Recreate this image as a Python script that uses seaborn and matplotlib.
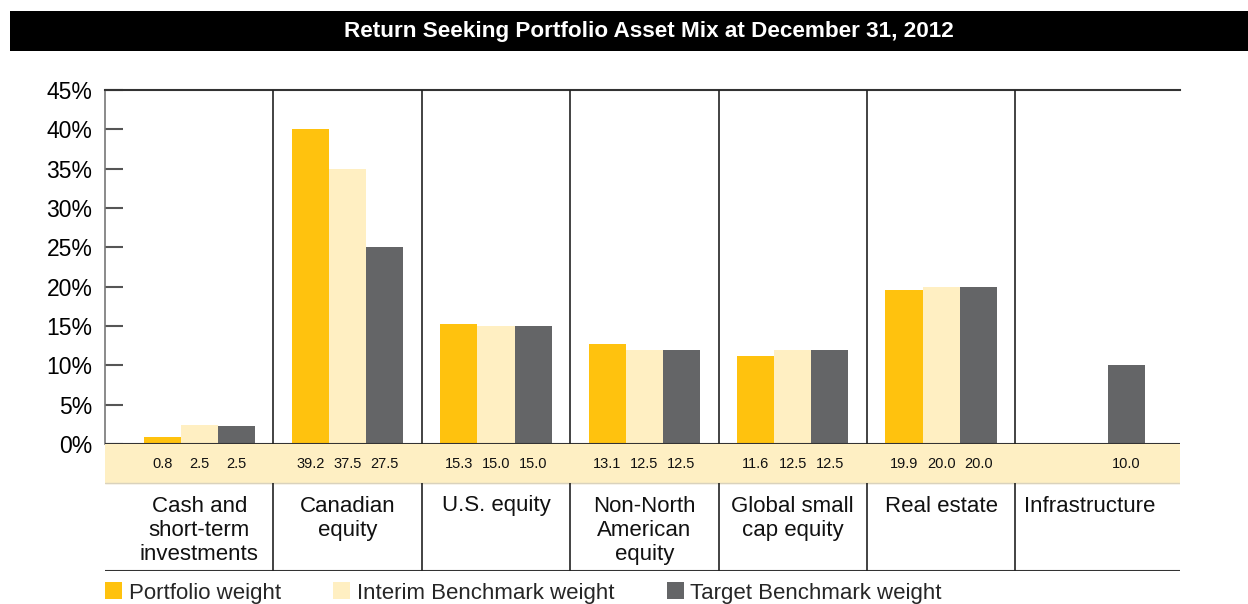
import numpy as np
import pandas as pd
import matplotlib
matplotlib.use('Agg')
import matplotlib.pyplot as plt
import seaborn as sns

# Chart data
categories = ['Cash and\nshort-term\ninvestments', 'Canadian\nequity', 'U.S. equity',
              'Non-North\nAmerican\nequity', 'Global small\ncap equity', 'Real estate',
              'Infrastructure']
series = ['Portfolio weight', 'Interim Benchmark weight', 'Target Benchmark weight']

# bar heights as drawn in the chart (%)
portfolio_bar = [0.9, 40.0, 15.2, 12.7, 11.2, 19.6, 0.0]
interim_bar = [2.4, 35.0, 15.0, 12.0, 12.0, 20.0, 0.0]
target_bar = [2.3, 25.0, 15.0, 12.0, 12.0, 20.0, 10.0]

# values printed in the band under the bars
portfolio_lbl = ['0.8', '39.2', '15.3', '13.1', '11.6', '19.9', '']
interim_lbl = ['2.5', '37.5', '15.0', '12.5', '12.5', '20.0', '']
target_lbl = ['2.5', '27.5', '15.0', '12.5', '12.5', '20.0', '10.0']

y_ticks = [0, 5, 10, 15, 20, 25, 30, 35, 40, 45]

colors = ['#FFC20E', '#FFEFC2', '#646567']
band_color = '#FEEFC3'

sns.set_theme(style='white')
plt.rcParams['font.family'] = ['Liberation Sans', 'DejaVu Sans']

df = pd.DataFrame({
    'category': categories * 3,
    'series': np.repeat(series, len(categories)),
    'value': portfolio_bar + interim_bar + target_bar,
})

W, H = 1248, 604
fig = plt.figure(figsize=(W / 100, H / 100), dpi=100)

# title bar
fig.patches.append(plt.Rectangle((10 / W, 1 - 51 / H), 1, 40 / H, transform=fig.transFigure,
                                 facecolor='black', edgecolor='none'))
fig.text(649 / W, 1 - 31 / H, 'Return Seeking Portfolio Asset Mix at December 31, 2012',
         color='white', fontsize=16.2, fontweight='bold', ha='center', va='center')

left, right = 105 / W, 1180 / W
ax = fig.add_axes([left, 1 - 444 / H, right - left, (444 - 90) / H])
sns.barplot(data=df, x='category', y='value', hue='series', order=categories,
            hue_order=series, palette=colors, saturation=1, width=0.75,
            linewidth=0, ax=ax)
xlim = (-0.635, 6.61)
ax.set_xlim(*xlim)
ax.set_ylim(0, 45)
ax.set_yticks(y_ticks)
ax.set_yticklabels([f'{v}%' for v in y_ticks], fontsize=16.5, color='black')
ax.tick_params(axis='y', direction='in', length=13, width=1.5, color='#555555', pad=9, left=True)
ax.tick_params(axis='x', bottom=False, labelbottom=False)
ax.set_xlabel('')
ax.set_ylabel('')
for s in ['right', 'bottom']:
    ax.spines[s].set_visible(False)
ax.spines['left'].set_color('#777777')
ax.spines['left'].set_linewidth(1.2)
ax.spines['top'].set_color('#333333')
ax.spines['top'].set_linewidth(1.5)
ax.axhline(0, color='#333333', lw=1.5, zorder=5)
ax.vlines(np.arange(len(categories) - 1) + 0.5, 0, 45, color='#222222', lw=1.2, zorder=5)

handles, labels = ax.get_legend_handles_labels()
ax.get_legend().remove()

# value band and category labels
tab = fig.add_axes([left, 1 - 571 / H, right - left, (571 - 444) / H])
tab.set_xlim(*xlim)
tab.set_ylim(127, 0)
tab.axis('off')
tab.axhspan(0, 39, color=band_color, zorder=0)
tab.axhline(39, color='#d9d2bd', lw=1)
tab.axhline(126.5, color='#333333', lw=1.5)
tab.vlines(np.arange(len(categories) - 1) + 0.5, 39, 127, color='#222222', lw=1.2)
offsets = [-0.25, 0.0, 0.25]
for i, cat in enumerate(categories):
    for off, lbls in zip(offsets, [portfolio_lbl, interim_lbl, target_lbl]):
        tab.text(i + off, 20, lbls[i], ha='center', va='center', fontsize=10.5, color='#111111')
    tab.text(i, 51.5, cat, ha='center', va='top', fontsize=16, linespacing=1.2, color='#111111')

fig.legend(handles, labels, loc='center left', bbox_to_anchor=(105 / W, 1 - 593 / H),
           ncol=3, frameon=False, fontsize=16, handlelength=0.77, handleheight=0.77,
           handletextpad=0.3, columnspacing=2.35, borderpad=0, borderaxespad=0)

fig.savefig('out.png', dpi=100)
